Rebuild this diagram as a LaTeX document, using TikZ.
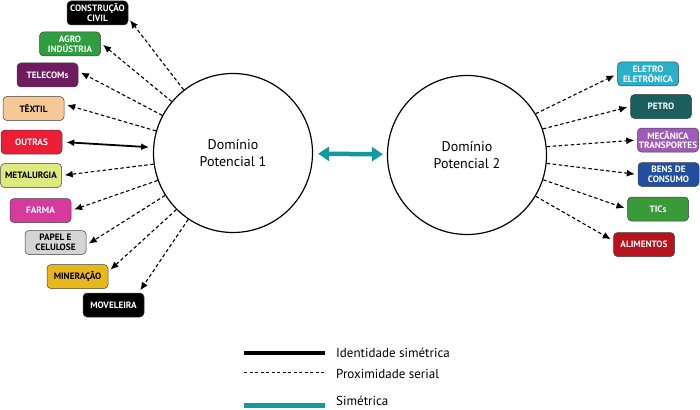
\documentclass[tikz,border=0pt]{standalone}
\usepackage{fontspec}
\setmainfont{PT Sans}
\usetikzlibrary{arrows.meta}
\tikzstyle{canvas} = [x = 1pt, y = -1pt]
\definecolor{linkColor}{RGB}{20,154,158}
\definecolor{civilColor}{RGB}{0,0,0}
\definecolor{agroColor}{RGB}{46,158,63}
\definecolor{telecomColor}{RGB}{110,27,95}
\definecolor{textilColor}{RGB}{246,200,150}
\definecolor{outrasColor}{RGB}{238,29,54}
\definecolor{metalColor}{RGB}{220,234,128}
\definecolor{farmaColor}{RGB}{216,58,155}
\definecolor{papelColor}{RGB}{212,212,212}
\definecolor{mineColor}{RGB}{232,183,26}
\definecolor{moveColor}{RGB}{0,0,0}
\definecolor{eletroColor}{RGB}{43,176,204}
\definecolor{petroColor}{RGB}{27,94,94}
\definecolor{mecColor}{RGB}{160,90,184}
\definecolor{bensColor}{RGB}{33,80,160}
\definecolor{ticColor}{RGB}{58,154,58}
\definecolor{alimColor}{RGB}{184,18,30}
\tikzstyle{domainCircle} = [circle, draw=black, line width=1.2pt, minimum size=159pt, inner sep=0pt, align=center, font=\fontsize{14}{17}\selectfont]
\tikzstyle{sectorBox} = [draw=black!75, line width=0.5pt, rounded corners=4pt, minimum width=61pt, minimum height=24pt, inner sep=1pt, align=center, font=\bfseries\fontsize{9.2}{9.8}\selectfont]
\tikzstyle{serialLink} = [dash pattern=on 3.5pt off 2.5pt, line width=1.1pt, -{Latex[length=8pt,width=7pt]}, shorten >=3pt]
\tikzstyle{identityLink} = [line width=1.8pt, {Latex[length=8pt,width=7pt]}-{Latex[length=8pt,width=7pt]}, shorten >=4pt, shorten <=4pt]
\tikzstyle{symmetricLink} = [color=linkColor, line width=4.5pt, {Triangle[length=11pt,width=14pt]}-{Triangle[length=11pt,width=14pt]}, shorten >=4pt, shorten <=5pt]
\tikzstyle{legendText} = [anchor=base west, inner sep=0pt, font=\fontsize{13}{15}\selectfont]
\newcommand{\sectorNode}[5]{\node [sectorBox, fill=#4, text=#5] (#1) at (#2) {#3};}
\newcommand{\serialArrow}[3]{\draw [serialLink] (#1) -- (#2.#3);}
\begin{document}
\begin{tikzpicture}[canvas]
  \useasboundingbox (0,0) rectangle (700,409);
  % domains
  \node [domainCircle] (dom1) at (233,153) {Domínio\\Potencial 1};
  \node [domainCircle] (dom2) at (467,155) {Domínio\\Potencial 2};
  \draw [symmetricLink] (dom1) -- (dom2);

  % sectors of domain 1
  \sectorNode{civil}{97.5,13}{CONSTRUÇÃO\\CIVIL}{civilColor}{white}
  \sectorNode{agro}{70,44}{AGRO\\INDÚSTRIA}{agroColor}{white}
  \sectorNode{telecom}{47.5,75}{TELECOMs}{telecomColor}{white}
  \sectorNode{textil}{33.5,108.5}{TÊXTIL}{textilColor}{black}
  \sectorNode{outras}{31.5,142}{OUTRAS}{outrasColor}{white}
  \sectorNode{metal}{31,175.5}{METALURGIA}{metalColor}{black}
  \sectorNode{farma}{40.5,210.5}{FARMA}{farmaColor}{white}
  \sectorNode{papel}{55.5,242.5}{PAPEL E\\CELULOSE}{papelColor}{black}
  \sectorNode{mine}{77.5,276.5}{MINERAÇÃO}{mineColor}{black}
  \sectorNode{move}{113.5,305}{MOVELEIRA}{moveColor}{white}

  \serialArrow{dom1.128}{civil}{-9}
  \serialArrow{dom1.140}{agro}{2}
  \serialArrow{dom1.152}{telecom}{7}
  \serialArrow{dom1.164}{textil}{8}
  \draw [identityLink] (outras.east) -- (dom1.176);
  \serialArrow{dom1.188}{metal}{0}
  \serialArrow{dom1.200}{farma}{0}
  \serialArrow{dom1.212}{papel}{-5}
  \serialArrow{dom1.225}{mine}{9}
  \serialArrow{dom1.236}{move}{26}

  % sectors of domain 2
  \sectorNode{eletro}{648,74}{ELETRO\\ELETRÔNICA}{eletroColor}{white}
  \sectorNode{petro}{661,106.5}{PETRO}{petroColor}{white}
  \sectorNode{mec}{668,140}{MECÂNICA\\TRANSPORTES}{mecColor}{white}
  \sectorNode{bens}{668.5,174.5}{BENS DE\\CONSUMO}{bensColor}{white}
  \sectorNode{tic}{658,209}{TICs}{ticColor}{white}
  \sectorNode{alim}{644,244.5}{ALIMENTOS}{alimColor}{white}

  \serialArrow{dom2.31}{eletro}{180}
  \serialArrow{dom2.19}{petro}{180}
  \serialArrow{dom2.6}{mec}{180}
  \serialArrow{dom2.-6}{bens}{180}
  \serialArrow{dom2.-18}{tic}{180}
  \serialArrow{dom2.-31}{alim}{173}

  % legend
  \coordinate (idA) at (244,353);
  \coordinate (idB) at (325,353);
  \coordinate (serA) at (244,372);
  \coordinate (serB) at (325,372);
  \coordinate (symA) at (244,405);
  \coordinate (symB) at (325,405);
  \draw [line width=3.5pt] (idA) -- (idB);
  \draw [dash pattern=on 3pt off 2.5pt, line width=0.8pt] (serA) -- (serB);
  \draw [color=linkColor, line width=5pt] (symA) -- (symB);
  \node [legendText] (idText) at (336,357) {Identidade simétrica};
  \node [legendText] (serText) at (336,378) {Proximidade serial};
  \node [legendText] (symText) at (336,405) {Simétrica};
\end{tikzpicture}
\end{document}
